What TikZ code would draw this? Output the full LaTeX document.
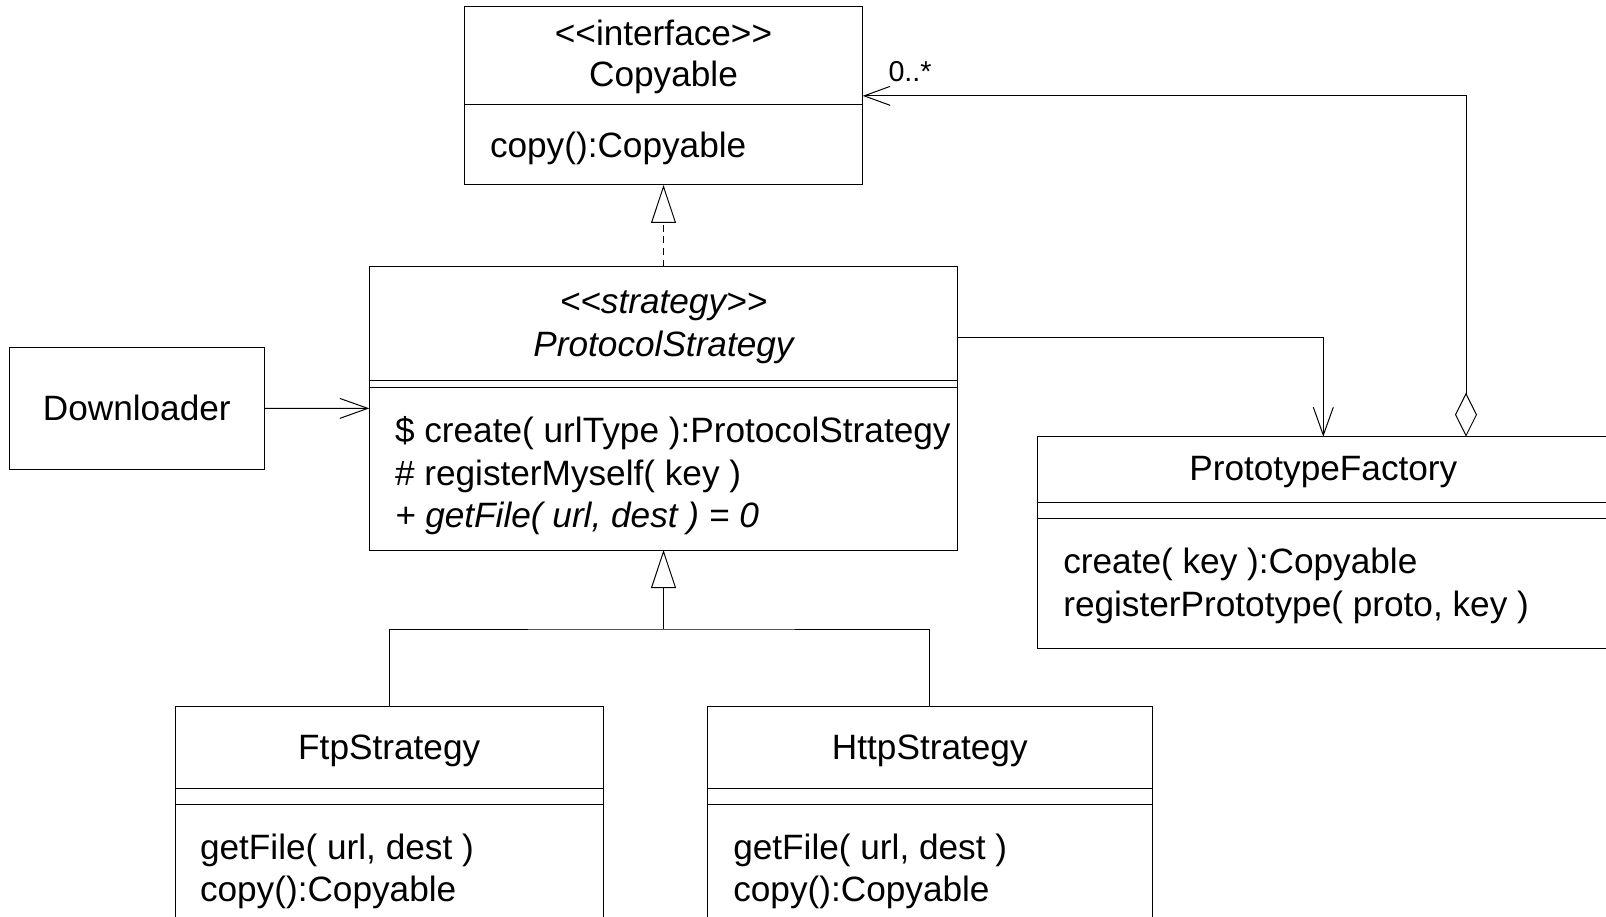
\documentclass[tikz,border=0pt]{standalone}
\usepackage{fontspec}
\setmainfont{Liberation Sans}
\usetikzlibrary{arrows.meta}
\newcommand\mylt{<\kern0pt<}
\newcommand\mygt{>\kern0pt>}
\begin{document}
\begin{tikzpicture}[x=1pt,y=-1pt,line width=1pt,
  cls/.style={draw, rectangle, inner sep=0pt, outer sep=0pt, anchor=north west},
  ttl/.style={inner sep=0pt, outer sep=0pt, font=\fontsize{35.2}{42}\selectfont, anchor=base},
  mtd/.style={ttl, anchor=base west},
  gen/.style={-{Triangle[open,length=38pt,width=25pt]}},
  nav/.style={-{Straight Barb[length=28pt,width=20pt]}},
  agg/.style={{Diamond[open,length=44pt,width=22pt]}-{Straight Barb[length=26pt,width=19pt]}},
  real/.style={gen, dash pattern=on 7pt off 4.7pt}
]
\useasboundingbox (0,0) rectangle (1606,917);
\fill[white] (0,0) rectangle (1606,917);
\clip (0,0) rectangle (1606,917);

% Copyable
\node[cls, minimum width=398.4pt, minimum height=178.3pt] (cop) at (464.3,6.7) {};
\draw (cop.west |- 0,104.3) -- (cop.east |- 0,104.3);
\node[ttl] (copst) at (663.5,45.5) {\mylt interface\mygt};
\node[ttl] (copnm) at (663.5,87) {Copyable};
\node[mtd] (copm) at (490,158) {copy():Copyable};

% ProtocolStrategy
\node[cls, minimum width=588.4pt, minimum height=283.3pt] (ps) at (369.3,266.7) {};
\draw (ps.west |- 0,380) -- (ps.east |- 0,380);
\draw (ps.west |- 0,387.5) -- (ps.east |- 0,387.5);
\node[ttl, font=\fontsize{35.2}{42}\selectfont\itshape] (psst) at (663.5,313.5) {\mylt strategy\mygt};
\node[ttl, font=\fontsize{35.2}{42}\selectfont\itshape] (psnm) at (663.5,356) {ProtocolStrategy};
\node[mtd] (psm1) at (395,442) {\$ create( urlType ):ProtocolStrategy};
\node[mtd] (psm2) at (395,485) {\# registerMyself( key )};
\node[mtd, font=\fontsize{35.2}{42}\selectfont\itshape] (psm3) at (395,527.5) {+ getFile( url, dest ) = 0};

% Downloader
\node[cls, minimum width=255pt, minimum height=121.6pt] (dl) at (9.3,347.7) {};
\node[ttl] (dlnm) at (136.8,420.5) {Downloader};

% PrototypeFactory
\node[cls, minimum width=572pt, minimum height=211.6pt] (pf) at (1037.3,436.7) {};
\draw (pf.west |- 0,502.3) -- (pf.east |- 0,502.3);
\draw (pf.west |- 0,518.3) -- (pf.east |- 0,518.3);
\node[ttl] (pfnm) at (1323.3,480) {PrototypeFactory};
\node[mtd] (pfm1) at (1063.3,573.5) {create( key ):Copyable};
\node[mtd] (pfm2) at (1063.3,616.5) {registerPrototype( proto, key )};

% FtpStrategy
\node[cls, minimum width=428.3pt, minimum height=300pt] (ftp) at (175,706.7) {};
\draw (ftp.west |- 0,788.3) -- (ftp.east |- 0,788.3);
\draw (ftp.west |- 0,804.3) -- (ftp.east |- 0,804.3);
\node[ttl] (ftpnm) at (389.2,759) {FtpStrategy};
\node[mtd] (ftpm1) at (200,859) {getFile( url, dest )};
\node[mtd] (ftpm2) at (200,901.5) {copy():Copyable};

% HttpStrategy
\node[cls, minimum width=445pt, minimum height=300pt] (http) at (707.3,706.7) {};
\draw (http.west |- 0,788.3) -- (http.east |- 0,788.3);
\draw (http.west |- 0,804.3) -- (http.east |- 0,804.3);
\node[ttl] (httpnm) at (929.8,759) {HttpStrategy};
\node[mtd] (httpm1) at (733.3,859) {getFile( url, dest )};
\node[mtd] (httpm2) at (733.3,901.5) {copy():Copyable};

% connectors
\draw[real] (ps.north) -- (cop.south);
\draw[nav] (dl.east) -- (ps.west);
\draw[nav] ([yshift=70.85pt]ps.east) -| (pf.north);
\draw[agg] ([xshift=142.7pt]pf.north) |- (cop.east);
\node[inner sep=0pt, anchor=base west, font=\fontsize{28.7}{34}\selectfont] (mult) at (888,81.7) {0..*};

\coordinate (jn) at (663.5,629);
\draw[gen] (jn) -- (ps.south);
\draw (ftp.north) |- (jn) -| (http.north);
\end{tikzpicture}
\end{document}
